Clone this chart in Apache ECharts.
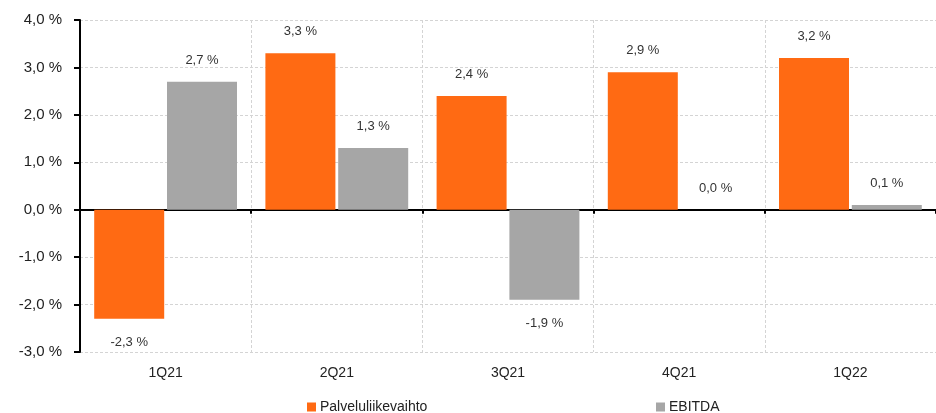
<!DOCTYPE html>
<html>
<head>
<meta charset="utf-8">
<script src="https://cdn.jsdelivr.net/npm/echarts@6/dist/echarts.min.js"></script>
<style>
html,body{margin:0;padding:0;background:#fff;}
#chart{width:936px;height:413px;}
</style>
</head>
<body>
<div id="chart"></div>
<script>
const categories = ['1Q21', '2Q21', '3Q21', '4Q21', '1Q22'];
const palveluliikevaihto = [-2.3, 3.3, 2.4, 2.9, 3.2];
const ebitda = [2.7, 1.3, -1.9, 0.0, 0.1];
const seriesNames = ['Palveluliikevaihto', 'EBITDA'];

const FONT = '"Liberation Sans", Arial, sans-serif';
const fmt = v => v.toFixed(1).replace('.', ',') + ' %';

// Value labels sit above positive bars and below negative ones
function barData(values) {
  return values.map(v => ({
    value: v,
    label: v < 0 ? {position: 'bottom', distance: 17} : {position: 'top', distance: 15}
  }));
}

const gridLine = {color: '#d4d4d4', type: [3, 2], width: 1};

const chart = echarts.init(document.getElementById('chart'));
chart.setOption({
  animation: false,
  textStyle: {fontFamily: FONT},
  grid: {left: 80, right: 0, top: 20, bottom: 61, containLabel: false},
  legend: [
    {data: [seriesNames[0]], left: 302, top: 395, itemWidth: 9, itemHeight: 9, itemGap: 4, icon: 'rect',
     textStyle: {fontFamily: FONT, fontSize: 14, color: '#222', padding: [0, 0, 0, -1]}},
    {data: [seriesNames[1]], left: 651, top: 395, itemWidth: 9, itemHeight: 9, icon: 'rect',
     textStyle: {fontFamily: FONT, fontSize: 14, color: '#222', padding: [0, 0, 0, -1]}}
  ],
  xAxis: [
    {
      type: 'category', data: categories, position: 'bottom',
      axisLine: {onZero: true, lineStyle: {color: '#000', width: 2}},
      axisTick: {show: true, length: 4, lineStyle: {color: '#000', width: 2}},
      axisLabel: {show: false},
      splitLine: {show: true, lineStyle: gridLine}
    },
    {
      type: 'category', data: categories, position: 'bottom',
      axisLine: {show: false, onZero: false},
      axisTick: {show: false},
      axisLabel: {show: true, margin: 14, fontSize: 14, color: '#222', fontFamily: FONT},
      splitLine: {show: false}
    }
  ],
  yAxis: {
    type: 'value', min: -3, max: 4, interval: 1,
    axisLine: {show: true, onZero: false, lineStyle: {color: '#000', width: 2}},
    axisTick: {show: true, length: 6, lineStyle: {color: '#000', width: 2}},
    axisLabel: {margin: 18, fontSize: 15, color: '#222', fontFamily: FONT, formatter: v => fmt(v)},
    splitLine: {show: true, lineStyle: gridLine}
  },
  series: [
    {
      name: seriesNames[0], type: 'bar', xAxisIndex: 0,
      data: barData(palveluliikevaihto),
      barWidth: 70, barGap: '4%',
      itemStyle: {color: '#FF6A13'},
      label: {show: true, fontSize: 13, color: '#333', fontFamily: FONT,
              formatter: p => fmt(p.value)}
    },
    {
      name: seriesNames[1], type: 'bar', xAxisIndex: 0,
      data: barData(ebitda),
      barWidth: 70, barGap: '4%',
      itemStyle: {color: '#A6A6A6'},
      label: {show: true, fontSize: 13, color: '#333', fontFamily: FONT,
              formatter: p => fmt(p.value)}
    }
  ]
});
</script>
</body>
</html>
